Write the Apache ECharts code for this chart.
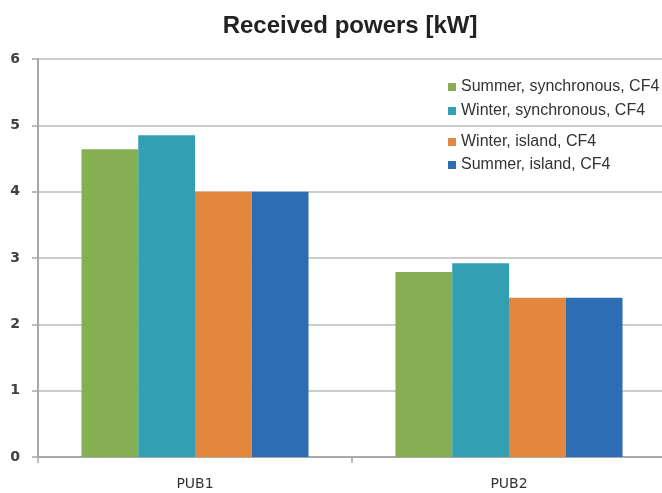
<!DOCTYPE html>
<html>
<head>
<meta charset="utf-8">
<script src="https://cdn.jsdelivr.net/npm/echarts@6/dist/echarts.min.js"></script>
<style>html,body{margin:0;padding:0;background:#fff}#c{width:662px;height:493px}</style>
</head>
<body>
<div id="c"></div>
<script>
const categories = ['PUB1', 'PUB2'];
const seriesNames = ['Summer, synchronous, CF4', 'Winter, synchronous, CF4', 'Winter, island, CF4', 'Summer, island, CF4'];
const summerSync = [4.64, 2.79];
const winterSync = [4.85, 2.92];
const winterIsland = [4.0, 2.4];
const summerIsland = [4.0, 2.4];
const yTicks = [0, 1, 2, 3, 4, 5, 6];
const colors = ['#86AF53', '#339FB2', '#E3873F', '#2C6DB3'];
const values = [summerSync, winterSync, winterIsland, summerIsland];

const chart = echarts.init(document.getElementById('c'));
const legendText = { fontFamily: 'Liberation Sans', fontSize: 16, color: '#333' };
chart.setOption({
  animation: false,
  color: colors,
  title: {
    text: 'Received powers [kW]',
    left: 345, top: 9, textAlign: 'center',
    textStyle: { fontFamily: 'Liberation Sans', fontWeight: 'bold', fontSize: 24, color: '#222' }
  },
  legend: [
    { data: seriesNames.slice(0, 2), orient: 'vertical', left: 443, top: 74, itemWidth: 8, itemHeight: 8, itemGap: 8, icon: 'rect', textStyle: legendText },
    { data: seriesNames.slice(2, 4), orient: 'vertical', left: 443, top: 129, itemWidth: 8, itemHeight: 8, itemGap: 7, icon: 'rect', textStyle: legendText }
  ],
  grid: { left: 38, top: 59, bottom: 36, width: 628, containLabel: false, outerBoundsMode: 'none' },
  xAxis: {
    type: 'category', data: categories,
    axisLine: { lineStyle: { color: '#A8A8A8', width: 2 } },
    axisTick: { show: true, length: 6, lineStyle: { color: '#A8A8A8', width: 1.5 } },
    axisLabel: { margin: 20, fontFamily: 'DejaVu Sans', fontSize: 14, color: '#333' }
  },
  yAxis: {
    type: 'value', min: yTicks[0], max: yTicks[yTicks.length - 1], interval: 1,
    axisLine: { show: true, lineStyle: { color: '#A8A8A8', width: 2 } },
    axisTick: { show: true, length: 6, lineStyle: { color: '#A8A8A8', width: 1.5 } },
    splitLine: { lineStyle: { color: '#BDBDBD', width: 1.5 } },
    axisLabel: { margin: 18, fontFamily: 'DejaVu Sans', fontWeight: 'bold', fontSize: 14, color: '#404040' }
  },
  series: seriesNames.map((n, i) => ({
    name: n, type: 'bar', data: values[i],
    barGap: '0%', barCategoryGap: '27.7%',
    itemStyle: { color: colors[i] }
  }))
});
</script>
</body>
</html>
